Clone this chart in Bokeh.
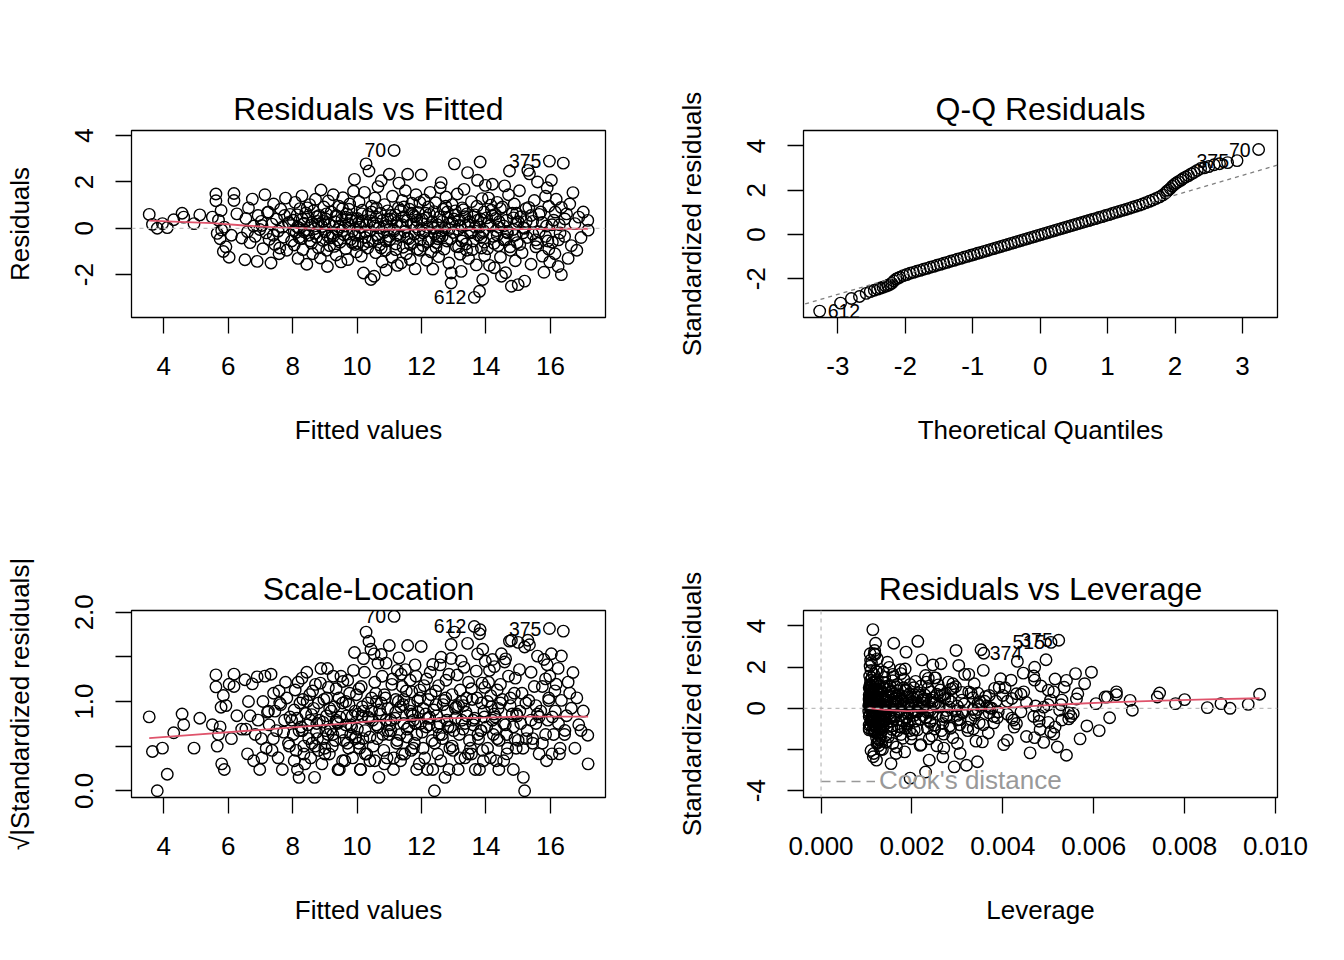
import math
import numpy as np
from bokeh.plotting import figure
from bokeh.models import Range1d, FixedTicker, NumeralTickFormatter, Legend, LegendItem, Span, Slope
from bokeh.layouts import row, column
from bokeh.embed import file_html
from bokeh.resources import INLINE
from bokeh.core.properties import value

FONT = "Liberation Sans"
RED = "#DF536B"

# ---------------- data ----------------
fitted = [
    3.55, 3.65, 3.80, 3.96, 4.11, 4.31, 4.57, 4.62, 4.94, 5.12, 5.51,
    5.62, 5.62, 5.66, 5.70, 5.75, 5.78, 5.80, 5.85, 5.88, 5.93, 6.03, 6.10, 6.18, 6.18, 6.27, 6.42,
    6.52, 6.55, 6.60, 6.63, 6.68, 6.75, 6.79, 6.84, 6.90, 6.93, 6.98, 7.03, 7.08, 7.14, 7.18, 7.22,
    7.27, 7.33, 7.36, 7.41, 7.45, 7.50, 7.55, 7.58, 7.63, 7.68, 7.72, 7.78, 7.82, 7.87, 7.92, 7.97,
    8.02, 8.05, 8.08, 8.11, 8.14, 8.17, 8.20, 8.23,
    8.26, 8.29, 8.32, 8.35, 8.38, 8.41, 8.44, 8.47,
    8.50, 8.53, 8.56, 8.59, 8.62, 8.65, 8.68, 8.71,
    8.74, 8.77, 8.80, 8.83, 8.86, 8.88, 8.91, 8.94,
    8.97, 9.00, 9.03, 9.06, 9.08, 9.11, 9.14, 9.17,
    9.20, 9.23, 9.26, 9.29, 9.32, 9.35, 9.38, 9.41,
    9.44, 9.47, 9.50, 9.53, 9.56, 9.59, 9.62, 9.65,
    9.68, 9.71, 9.74, 9.77, 9.80, 9.83, 9.86, 9.89,
    9.92, 9.94, 9.96, 9.98, 8.15, 8.60, 9.10, 9.55,
    10.01, 10.03, 10.06, 10.08, 10.11, 10.13, 10.16, 10.18,
    10.20, 10.23, 10.25, 10.28, 10.30, 10.33, 10.35, 10.37,
    10.40, 10.43, 10.45, 10.48, 10.50, 10.53, 10.55, 10.58,
    10.60, 10.63, 10.65, 10.68, 10.70, 10.73, 10.75, 10.78,
    10.80, 10.83, 10.85, 10.88, 10.90, 10.93, 10.95, 11.00,
    11.02, 11.05, 11.08, 11.10, 11.13, 11.15, 11.18, 11.20,
    11.23, 11.25, 11.28, 11.30, 11.33, 11.35, 11.37, 11.40,
    11.43, 11.45, 11.48, 11.50, 11.53, 11.55, 11.57, 11.60,
    11.63, 11.65, 11.68, 11.70, 11.73, 11.75, 11.78, 11.80,
    11.83, 11.85, 11.88, 11.90, 11.93, 11.95, 11.97, 11.99,
    12.02, 12.05, 12.08, 12.10, 12.13, 12.16, 12.18, 12.21,
    12.24, 12.27, 12.30, 12.33, 12.35, 12.38, 12.41, 12.44,
    12.47, 12.50, 12.53, 12.56, 12.58, 12.61, 12.64, 12.67,
    12.70, 12.73, 12.76, 12.79, 12.82, 12.85, 12.88, 12.92,
    12.92, 12.95, 12.98, 13.02, 13.05, 13.08, 13.11, 13.14,
    13.17, 13.20, 13.23, 13.26, 13.29, 13.32, 13.35, 13.38,
    13.41, 13.43, 13.46, 13.49, 13.52, 13.55, 13.58, 13.61,
    13.64, 13.67, 13.70, 13.72, 13.74, 13.77, 13.80, 13.82,
    13.84, 13.86, 13.88, 13.90, 13.92, 13.94, 13.96, 13.98,
    12.40, 12.90, 13.30, 13.60,
    14.02, 14.05, 14.08, 14.11, 14.14, 14.17, 14.20, 14.23,
    14.26, 14.29, 14.32, 14.35, 14.38, 14.41, 14.45, 14.48,
    14.51, 14.55, 14.58, 14.61, 14.64, 14.67, 14.70, 14.73,
    14.76, 14.79, 14.82, 14.85, 14.88, 14.91, 14.94, 14.97,
    15.00, 15.04, 15.08, 15.12, 15.16, 15.20, 15.24, 15.28,
    15.30, 15.35, 15.40, 15.45, 15.50, 15.55, 15.60, 15.65,
    15.70, 15.75, 15.80, 15.85, 15.88, 15.92, 15.95, 15.98,
    14.40, 14.90, 15.40, 15.90,
    15.97, 16.03, 16.06, 16.10, 16.14, 16.18, 16.24, 16.28,
    16.34, 16.34, 16.40, 16.44, 16.50, 16.55, 16.60, 16.65,
    16.70, 16.76, 16.82, 16.88, 16.95, 17.02, 17.16, 17.17,
    7.05, 7.40, 7.75, 8.05, 8.30, 8.55, 8.80, 9.05,
    9.25, 9.45, 9.65, 9.85, 10.05, 10.25, 10.45, 10.65,
    10.85, 11.05, 11.25, 11.45, 11.65, 11.85, 12.05, 12.25,
    12.45, 12.65, 12.85, 13.05, 13.25, 13.45, 13.65, 13.85,
    14.05, 14.25, 14.45, 14.65, 14.85, 15.05, 15.25, 15.45,
    15.65, 15.85, 16.05, 16.25, 16.45, 7.25, 7.60, 7.90,
    8.20, 8.45, 8.70, 8.95, 9.15, 9.35, 9.55, 9.75,
    9.95, 10.15, 10.35, 10.55, 10.75, 10.95, 11.14, 11.35,
    11.55, 11.75, 11.95, 12.15, 12.35, 12.55, 12.75, 12.95,
    13.15, 13.35, 13.55, 13.75, 13.95, 14.15, 14.35, 14.55,
    14.75, 14.95, 15.15, 15.33, 15.55, 15.75, 15.95, 16.15,
    9.00, 9.40, 9.80, 10.20, 10.60, 11.00, 11.40, 11.80,
    12.20, 12.60, 13.00, 13.40, 13.80, 14.20, 14.60, 15.00,
    8.35, 8.75, 9.70, 10.10, 10.90, 11.70, 12.50, 13.20,
    13.90, 14.30, 15.20, 15.60, 16.30, 10.40, 11.20, 12.80,
]

residuals = [
    0.60, 0.17, 0.00, 0.20, 0.03, 0.37, 0.65, 0.48, 0.20, 0.58, 0.48,
    1.48, 1.19, -0.22, 0.35, -0.45, 0.77, -0.08, -1.00, 0.05, -0.80, -1.25, -0.30, 1.50, 1.20, 0.62, -0.42,
    -1.36, 0.42, -0.15, 0.88, -0.62, 1.26, 0.10, -0.35, -1.43, 0.55, -0.05, 0.30, -0.88, 1.45, -0.20, 0.68,
    -0.48, -1.50, 0.18, 1.05, -0.70, 0.40, -0.12, -1.10, 0.82, 0.05, -0.38, 1.30, -0.95, 0.25, 0.60, -0.55,
    0.35, -0.72, 1.12, -0.18, 0.58, -1.30, 0.02, 0.85,
    -0.45, 1.40, -0.92, 0.22, -0.08, 0.66, -1.55, 0.48,
    -0.30, 1.02, 0.12, -0.64, -1.10, 0.75, -0.02, 1.25,
    -0.38, 0.30, -0.85, 0.55, -1.28, 1.65, 0.08, -0.52,
    0.92, -0.15, 0.40, -0.95, -1.65, 1.18, 0.15, -0.42,
    0.70, -0.22, 1.45, -0.78, 0.28, -1.15, 0.52, -0.05,
    0.95, -0.60, -1.45, 0.38, 1.32, -0.28, 0.10, -0.88,
    0.62, -1.35, 0.20, 1.05, -0.48, 0.45, -0.12, 1.60,
    2.11, -0.70, 0.32, -1.02, 0.05, 0.25, -0.35, 0.85,
    0.42, -0.65, 1.15, -0.20, 0.05, -1.20, 0.78, 0.30,
    -1.93, 1.55, -0.40, 2.78, 0.15, -0.85, 0.60, 2.47,
    -0.10, -2.21, 0.95, -0.55, 0.22, -2.07, 1.30, -1.05,
    0.48, -0.30, 1.80, 0.02, -0.72, 0.65, 2.05, -1.45,
    0.35, -0.18, 1.02, -0.95, -1.80, 0.12, 0.75, 2.33,
    -0.48, 0.40, -1.25, 1.38, -0.05, 3.36, 0.58, -0.68,
    0.25, -1.60, 0.88, 1.95, -0.35, 0.10, -1.50, 1.20,
    -0.82, 0.50, -0.15, 1.62, -1.10, 0.32, 2.33, -0.45,
    0.82, -1.35, 0.18, 1.08, -0.62, 0.55, -0.25, -1.75,
    1.45, 0.05, -0.90, 0.68, -0.08, 1.12, -0.50, 2.30,
    0.38, -0.75, 1.22, -0.12, 0.65, -1.38, 0.05, 0.92,
    -0.48, 1.55, -1.02, 0.28, -1.76, 0.72, -0.25, 1.10,
    -0.62, 0.15, -1.22, 0.50, 1.75, 1.97, -0.35, 0.82,
    -0.90, 0.02, 1.35, -0.55, 0.45, -1.50, 0.20, -1.93,
    -2.36, 1.02, -0.18, 2.78, 0.58, -0.78, 1.48, -0.05,
    0.35, -1.12, -1.86, 0.88, -0.42, 1.68, 0.12, -0.68,
    0.62, 2.40, -1.30, 0.28, -0.20, 1.15, -0.92, 0.48,
    -2.98, 0.05, -1.58, 0.95, 2.07, -0.30, -2.72, 2.86,
    0.40, -0.85, 1.28, -2.21, -0.10, 0.70, -1.18, 1.85,
    0.00, -0.45, 0.80, -0.55,
    0.45, -0.88, 1.30, -1.60, 0.12, 0.78, 1.90, -0.35,
    -1.70, 0.60, -0.10, 1.12, -0.75, 0.28, -1.25, -2.07,
    0.92, -0.50, 1.83, -1.92, 0.35, -0.20, 1.45, 2.47,
    -0.95, -2.50, 0.65, -0.05, 1.05, -1.40, 0.20, -0.62,
    -2.43, 1.62, 0.50, -1.05, 0.02, -2.28, 0.85, -0.40,
    2.50, 2.35, -1.55, 0.30, 1.20, -0.80, 2.00, -0.15,
    0.70, -1.20, -1.90, 1.38, 0.10, -0.55, 0.95, -1.45,
    0.05, -0.30, 0.55, 1.75,
    2.90, 2.07, -0.60, 0.35, -1.10, 1.25, -1.65, 0.15,
    -2.00, 0.90, 2.81, -0.35, 0.62, -1.30, 1.05, -0.75,
    1.54, 0.20, -0.95, 0.48, -0.40, 0.70, 0.34, -0.08,
    0.12, -0.30, 0.55, -0.10, 0.40, -0.55, 0.18, 0.62,
    -0.35, 0.05, 0.48, -0.62, 0.25, -0.15, 0.70, -0.45,
    0.08, 0.55, -0.28, 0.92, -0.70, 0.35, -0.20, 0.60,
    -0.82, 0.30, -0.05, 0.75, -0.55, 0.15, 0.58, -0.40,
    0.20, -0.65, 0.85, -0.15, 0.45, -0.70, 0.30, -0.25,
    0.60, -0.35, 0.15, -0.50, 0.40, 0.70, -0.85, 0.22,
    -0.40, 0.88, -0.22, 0.30, -0.75, 0.55, -0.10, 0.82,
    -0.30, 0.62, -0.58, 0.10, -0.85, 0.40, -0.12, 0.78,
    -0.42, 0.20, -0.95, 0.45, 0.05, -0.35, 0.95, 0.22,
    -0.80, 0.50, -0.15, 0.35, -0.60, 1.00, -0.30, 0.10,
    -0.80, 0.65, -0.20, 0.90, -0.50, 0.25, -0.90, 0.70,
    0.20, -0.50, 0.35, -0.70, 0.88, -0.35, 0.15, 0.50,
    -0.58, -0.10, 0.40, -0.95, 0.05, 0.55, -0.48, 0.28,
    -0.15, 0.50, -0.25, 0.05, -0.55, 0.65, -0.45, 0.12,
    -0.18, 0.42, 0.00, -0.65, -0.20, 0.32, -0.92, 0.70,
]

leverage = [
    0.00965, 0.00940, 0.00900, 0.00880, 0.00850, 0.00800, 0.00745, 0.00740, 0.00780, 0.00650, 0.00630,
    0.00560, 0.00540, 0.00555, 0.00530, 0.00545, 0.00500, 0.00525, 0.00505, 0.00490, 0.00515, 0.00470,
    0.00480, 0.00445, 0.00470, 0.00430, 0.00420,
    0.00410, 0.00420, 0.00390, 0.00405, 0.00380, 0.00395, 0.00365, 0.00380, 0.00355, 0.00370, 0.00345,
    0.00360, 0.00335, 0.00325, 0.00340, 0.00310, 0.00330, 0.00300, 0.00315, 0.00290, 0.00305, 0.00280,
    0.00295, 0.00270, 0.00285, 0.00260, 0.00275, 0.00250, 0.00265, 0.00245, 0.00255, 0.00240,
    0.00242, 0.00250, 0.00232, 0.00245, 0.00228, 0.00238, 0.00222, 0.00235,
    0.00218, 0.00230, 0.00212, 0.00225, 0.00208, 0.00215, 0.00220, 0.00200,
    0.00205, 0.00196, 0.00210, 0.00190, 0.00200, 0.00186, 0.00195, 0.00182,
    0.00188, 0.00176, 0.00185, 0.00172, 0.00180, 0.00175, 0.00168, 0.00178,
    0.00165, 0.00172, 0.00160, 0.00168, 0.00166, 0.00158, 0.00163, 0.00152,
    0.00156, 0.00150, 0.00158, 0.00146, 0.00152, 0.00143, 0.00148, 0.00140,
    0.00145, 0.00138, 0.00142, 0.00134, 0.00140, 0.00132, 0.00137, 0.00130,
    0.00133, 0.00128, 0.00131, 0.00125, 0.00129, 0.00123, 0.00127, 0.00121,
    0.00124, 0.00119, 0.00122, 0.00118, 0.00240, 0.00198, 0.00162, 0.00139,
    0.00121, 0.00126, 0.00118, 0.00124, 0.00117, 0.00130, 0.00115, 0.00122,
    0.00116, 0.00124, 0.00113, 0.00120, 0.00112, 0.00128, 0.00111, 0.00118,
    0.00110, 0.00122, 0.00109, 0.00117, 0.00108, 0.00115, 0.00112, 0.00126,
    0.00107, 0.00114, 0.00108, 0.00121, 0.00106, 0.00112, 0.00109, 0.00125,
    0.00106, 0.00118, 0.00108, 0.00113, 0.00110, 0.00105, 0.00120, 0.00108,
    0.00112, 0.00106, 0.00122, 0.00107, 0.00115, 0.00114, 0.00106, 0.00119,
    0.00108, 0.00127, 0.00106, 0.00111, 0.00116, 0.00107, 0.00123, 0.00109,
    0.00120, 0.00108, 0.00113, 0.00110, 0.00126, 0.00112, 0.00117, 0.00114,
    0.00111, 0.00128, 0.00116, 0.00113, 0.00124, 0.00114, 0.00119, 0.00131,
    0.00116, 0.00122, 0.00118, 0.00126, 0.00117, 0.00121, 0.00128, 0.00119,
    0.00122, 0.00128, 0.00124, 0.00130, 0.00126, 0.00133, 0.00127, 0.00135,
    0.00130, 0.00137, 0.00132, 0.00140, 0.00135, 0.00134, 0.00142, 0.00138,
    0.00145, 0.00140, 0.00148, 0.00143, 0.00150, 0.00146, 0.00153, 0.00149,
    0.00156, 0.00152, 0.00160, 0.00155, 0.00163, 0.00158, 0.00166, 0.00165,
    0.00154, 0.00168, 0.00164, 0.00160, 0.00172, 0.00170, 0.00176, 0.00173,
    0.00180, 0.00176, 0.00184, 0.00182, 0.00188, 0.00185, 0.00192, 0.00190,
    0.00195, 0.00187, 0.00198, 0.00202, 0.00200, 0.00208, 0.00205, 0.00211,
    0.00196, 0.00215, 0.00218, 0.00220, 0.00222, 0.00224, 0.00230, 0.00213,
    0.00230, 0.00234, 0.00236, 0.00238, 0.00240, 0.00242, 0.00244, 0.00246,
    0.00136, 0.00160, 0.00186, 0.00207,
    0.00246, 0.00250, 0.00252, 0.00255, 0.00258, 0.00262, 0.00264, 0.00268,
    0.00270, 0.00273, 0.00276, 0.00280, 0.00283, 0.00286, 0.00290, 0.00268,
    0.00296, 0.00300, 0.00303, 0.00306, 0.00310, 0.00312, 0.00316, 0.00297,
    0.00323, 0.00293, 0.00330, 0.00334, 0.00337, 0.00341, 0.00345, 0.00348,
    0.00320, 0.00357, 0.00362, 0.00368, 0.00372, 0.00344, 0.00382, 0.00388,
    0.00352, 0.00358, 0.00402, 0.00410, 0.00418, 0.00425, 0.00432, 0.00440,
    0.00446, 0.00452, 0.00460, 0.00468, 0.00472, 0.00480, 0.00484, 0.00490,
    0.00282, 0.00338, 0.00400, 0.00470,
    0.00523, 0.00495, 0.00500, 0.00505, 0.00512, 0.00515, 0.00520, 0.00528,
    0.00540, 0.00535, 0.00506, 0.00550, 0.00565, 0.00570, 0.00580, 0.00585,
    0.00595, 0.00605, 0.00612, 0.00625, 0.00635, 0.00650, 0.00680, 0.00685,
    0.00348, 0.00300, 0.00268, 0.00236, 0.00226, 0.00195, 0.00183, 0.00160,
    0.00152, 0.00139, 0.00136, 0.00128, 0.00116, 0.00118, 0.00109, 0.00113,
    0.00106, 0.00110, 0.00107, 0.00112, 0.00109, 0.00119, 0.00121, 0.00126,
    0.00136, 0.00146, 0.00157, 0.00168, 0.00181, 0.00198, 0.00214, 0.00231,
    0.00249, 0.00268, 0.00290, 0.00310, 0.00334, 0.00357, 0.00385, 0.00410,
    0.00440, 0.00468, 0.00500, 0.00530, 0.00562, 0.00325, 0.00285, 0.00252,
    0.00230, 0.00204, 0.00190, 0.00170, 0.00156, 0.00147, 0.00135, 0.00130,
    0.00122, 0.00114, 0.00112, 0.00108, 0.00106, 0.00107, 0.00105, 0.00108,
    0.00111, 0.00116, 0.00117, 0.00125, 0.00132, 0.00140, 0.00152, 0.00164,
    0.00176, 0.00190, 0.00205, 0.00222, 0.00240, 0.00258, 0.00278, 0.00300,
    0.00322, 0.00345, 0.00370, 0.00392, 0.00424, 0.00452, 0.00482, 0.00512,
    0.00170, 0.00141, 0.00125, 0.00117, 0.00109, 0.00106, 0.00108, 0.00118,
    0.00129, 0.00144, 0.00165, 0.00195, 0.00225, 0.00262, 0.00306, 0.00350,
    0.00213, 0.00184, 0.00131, 0.00120, 0.00110, 0.00113, 0.00140, 0.00182,
    0.00234, 0.00272, 0.00376, 0.00430, 0.00545, 0.00114, 0.00106, 0.00155,
]

sigma = 0.88  # residual standard error

# observation ids shown on the plots, keyed by their fitted value
id_70, id_375, id_612, id_515, id_374 = 11.15, 15.97, 13.64, 16.40, 15.35

# Normal Q-Q points (theoretical quantile, standardized residual)
qq_theoretical = [
    -3.27, -2.96, -2.80, -2.68, -2.58, -2.52, -2.46, -2.41, -2.37, -2.33, -2.29, -2.26, -2.23, -2.20,
    -2.17, -2.14, -2.11,
    -2.08, -2.03, -1.98, -1.93, -1.88, -1.83, -1.78, -1.73, -1.68, -1.63, -1.58, -1.53, -1.48, -1.43,
    -1.38, -1.33, -1.28, -1.23, -1.18, -1.13, -1.08, -1.03, -0.98, -0.93, -0.88, -0.83, -0.78, -0.73,
    -0.68, -0.63, -0.58, -0.53, -0.48, -0.43, -0.38, -0.33, -0.28, -0.23, -0.18, -0.13, -0.08, -0.03,
    0.02, 0.07, 0.12, 0.17, 0.22, 0.27, 0.32, 0.37, 0.42, 0.47, 0.52, 0.57, 0.62, 0.67, 0.72, 0.77,
    0.82, 0.87, 0.92, 0.97, 1.02, 1.07, 1.12, 1.17, 1.22, 1.27, 1.32, 1.37, 1.42, 1.47, 1.52, 1.57,
    1.62, 1.67, 1.72, 1.77, 1.82, 1.86,
    1.88, 1.90, 1.93, 1.96, 1.99, 2.02, 2.05, 2.09, 2.12, 2.16, 2.20, 2.24, 2.28, 2.33, 2.38, 2.44,
    2.50, 2.58, 2.66, 2.78, 2.92, 3.24,
]
qq_sample = [
    -3.46, -3.10, -2.89, -2.80, -2.66, -2.58, -2.52, -2.47, -2.42, -2.38, -2.34, -2.30, -2.26, -2.20,
    -2.10, -2.02, -1.97,
    -1.93, -1.86, -1.81, -1.75, -1.71, -1.66, -1.62, -1.57, -1.53, -1.48, -1.44, -1.39, -1.35, -1.30,
    -1.26, -1.21, -1.17, -1.12, -1.08, -1.03, -0.99, -0.94, -0.90, -0.85, -0.81, -0.76, -0.72, -0.67,
    -0.63, -0.58, -0.54, -0.49, -0.45, -0.40, -0.36, -0.31, -0.27, -0.22, -0.18, -0.13, -0.09, -0.04,
    0.00, 0.05, 0.09, 0.14, 0.18, 0.23, 0.27, 0.32, 0.36, 0.41, 0.45, 0.50, 0.54, 0.59, 0.63, 0.68,
    0.72, 0.77, 0.81, 0.86, 0.90, 0.95, 1.00, 1.04, 1.09, 1.13, 1.18, 1.23, 1.28, 1.33, 1.38, 1.44,
    1.50, 1.56, 1.63, 1.70, 1.79, 1.88,
    1.95, 2.00, 2.08, 2.18, 2.26, 2.33, 2.39, 2.46, 2.53, 2.60, 2.66, 2.74, 2.80, 2.90, 2.98, 3.02,
    3.07, 3.15, 3.20, 3.25, 3.34, 3.84,
]
qq_line_slope, qq_line_intercept = 0.896, -0.015

# smoother curves (red lines)
smooth_rf_x = [3.55, 4.5, 5.5, 6.5, 7.5, 8.5, 9.5, 10.5, 11.5, 12.5, 13.5, 14.5, 15.5, 16.5, 17.17]
smooth_rf_y = [0.33, 0.28, 0.22, 0.12, 0.04, -0.01, -0.04, -0.06, -0.06, -0.05, -0.04, -0.04, -0.03, -0.02, -0.02]
smooth_sl_x = [3.55, 5.0, 6.5, 8.0, 9.5, 10.5, 12.0, 13.0, 14.0, 15.0, 16.0, 17.17]
smooth_sl_y = [0.59, 0.63, 0.67, 0.71, 0.75, 0.78, 0.80, 0.815, 0.82, 0.83, 0.83, 0.83]
smooth_lev_x = [0.00105, 0.0014, 0.0019, 0.0025, 0.0031, 0.0037, 0.0043, 0.0048, 0.0055, 0.0063, 0.0075, 0.0085, 0.00965]
smooth_lev_y = [0.01, -0.08, -0.14, -0.10, -0.06, -0.02, 0.06, 0.13, 0.21, 0.29, 0.37, 0.43, 0.49]

# ---------------- derived quantities (as in plot.lm) ----------------
fit = np.array(fitted)
res = np.array(residuals)
lev = np.array(leverage)
std_res = res / (sigma * np.sqrt(1.0 - lev))
sqrt_abs = np.sqrt(np.abs(std_res))

def idx(v):
    return int(np.argmin(np.abs(fit - v)))

# ---------------- styling helpers ----------------
def make_panel(title, xr, yr, xlabel, ylabel, xticks, yticks):
    bl, br, bt, bb = 131, 67, 130, 163
    p = figure(title=title, width=bl + 474 + br, height=bt + 187 + bb,
               frame_width=474, frame_height=187,
               x_range=Range1d(*xr), y_range=Range1d(*yr),
               min_border_left=bl, min_border_right=br, min_border_top=bt, min_border_bottom=bb,
               output_backend="svg", toolbar_location=None,
               background_fill_color="white", border_fill_color="white")
    p.title.align = "center"
    p.title.text_font = FONT
    p.title.text_font_size = "32px"
    p.title.text_font_style = "normal"
    p.title.text_color = "black"
    p.title.standoff = 8
    p.outline_line_color = "black"
    p.outline_line_width = 1.3
    p.outline_line_alpha = 1.0
    p.xgrid.visible = False
    p.ygrid.visible = False
    for ax in (p.xaxis[0], p.yaxis[0]):
        ax.axis_line_color = None
        ax.major_tick_out = 16
        ax.major_tick_in = 0
        ax.minor_tick_line_color = None
        ax.major_tick_line_color = "black"
        ax.major_tick_line_width = 1.3
        ax.major_label_text_font = FONT
        ax.major_label_text_font_size = "26px"
        ax.major_label_text_color = "black"
        ax.axis_label_text_font = FONT
        ax.axis_label_text_font_size = "26px"
        ax.axis_label_text_font_style = "normal"
        ax.axis_label_text_color = "black"
    p.xaxis[0].major_label_standoff = 23
    p.xaxis[0].axis_label_standoff = 37
    p.yaxis[0].major_label_standoff = 22
    p.yaxis[0].axis_label_standoff = 38
    p.xaxis[0].axis_label = xlabel
    p.yaxis[0].axis_label = ylabel
    p.xaxis[0].ticker = FixedTicker(ticks=xticks)
    p.yaxis[0].ticker = FixedTicker(ticks=yticks)
    p.yaxis[0].major_label_orientation = "vertical"
    return p

def points(p, x, y):
    p.scatter(x=x, y=y, marker="circle", size=11.5, fill_color=None,
              line_color="black", line_width=1.4)

def labels(p, x, y, txt, align, xoff):
    p.text(x=x, y=y, text=txt, text_font=value(FONT), text_font_size="19.5px",
           text_align=align, text_baseline="middle", x_offset=xoff, text_color="black")

# ---- 1. Residuals vs Fitted ----
p1 = make_panel("Residuals vs Fitted", (3.0, 17.71), (-3.85, 4.22),
                "Fitted values", "Residuals", [4, 6, 8, 10, 12, 14, 16], [-2, 0, 2, 4])
p1.yaxis[0].major_label_overrides = {-2: "-2"}
points(p1, fit, res)
p1.line(smooth_rf_x, smooth_rf_y, line_color=RED, line_width=1.8)
p1.add_layout(Span(location=0, dimension="width", line_color="#BEBEBE", line_dash="4 4", line_width=1.3))
ids1 = [idx(id_70), idx(id_375), idx(id_612)]
labels(p1, fit[ids1], res[ids1], ["70", "375", "612"], "right", -8)

# ---- 2. Q-Q Residuals ----
p2 = make_panel("Q-Q Residuals", (-3.51, 3.52), (-3.75, 4.70),
                "Theoretical Quantiles", "Standardized residuals", [-3, -2, -1, 0, 1, 2, 3], [-2, 0, 2, 4])
p2.xaxis[0].major_label_overrides = {-3: "-3", -2: "-2", -1: "-1"}
p2.yaxis[0].major_label_overrides = {-2: "-2"}
points(p2, qq_theoretical, qq_sample)
p2.add_layout(Slope(gradient=qq_line_slope, y_intercept=qq_line_intercept,
                    line_color="#7F7F7F", line_dash="4 4", line_width=1.3))
qi = np.argsort(qq_sample)
qt = np.array(qq_theoretical)
qs = np.array(qq_sample)
labels(p2, qt[[qi[-1], qi[-2]]], qs[[qi[-1], qi[-2]]], ["70", "375"], "right", -8)
labels(p2, qt[[qi[0]]], qs[[qi[0]]], ["612"], "left", 8)

# ---- 3. Scale-Location ----
p3 = make_panel("Scale-Location", (3.0, 17.71), (-0.075, 2.02),
                "Fitted values", "\u221a|Standardized residuals|", [4, 6, 8, 10, 12, 14, 16],
                [0, 0.5, 1, 1.5, 2])
p3.yaxis[0].major_label_overrides = {0: "0.0", 0.5: "", 1: "1.0", 1.5: "", 2: "2.0"}
points(p3, fit, sqrt_abs)
p3.line(smooth_sl_x, smooth_sl_y, line_color=RED, line_width=1.8)
ids3 = [idx(id_70), idx(id_612), idx(id_375)]
labels(p3, fit[ids3], sqrt_abs[ids3], ["70", "612", "375"], "right", -8)

# ---- 4. Residuals vs Leverage ----
p4 = make_panel("Residuals vs Leverage", (-0.000386, 0.010044), (-4.33, 4.75),
                "Leverage", "Standardized residuals", [0.0, 0.002, 0.004, 0.006, 0.008, 0.010],
                [-4, -2, 0, 2, 4])
p4.xaxis[0].formatter = NumeralTickFormatter(format="0.000")
p4.yaxis[0].major_label_overrides = {-4: "-4", -2: ""}
p4.add_layout(Span(location=0, dimension="width", line_color="#BEBEBE", line_dash="4 4", line_width=1.3))
p4.add_layout(Span(location=0, dimension="height", line_color="#BEBEBE", line_dash="4 4", line_width=1.3))
points(p4, lev, std_res)
p4.line(smooth_lev_x, smooth_lev_y, line_color=RED, line_width=1.8)
i374 = [idx(id_374)]
labels(p4, lev[i374], std_res[i374], ["374"], "left", 6)
ids4 = [idx(id_515), idx(id_375)]
labels(p4, lev[ids4], std_res[ids4], ["515", "375"], "right", -6)
# legend key for Cook's distance contours (none fall inside the plotted range)
cook = p4.line(x=[float("nan"), float("nan")], y=[float("nan"), float("nan")],
               line_color="#999999", line_dash="9 6", line_width=1.6)
leg = Legend(items=[LegendItem(label="Cook's distance", renderers=[cook])], location=(18, 1),
             border_line_color=None, background_fill_alpha=0, padding=0, margin=0,
             glyph_width=54, glyph_height=28, label_standoff=4, label_height=28,
             label_text_font=FONT, label_text_font_size="26px", label_text_color="#999999")
p4.add_layout(leg)

layout = column(row(p1, p2), row(p3, p4))
open("out.html", "w").write(file_html(layout, INLINE))
